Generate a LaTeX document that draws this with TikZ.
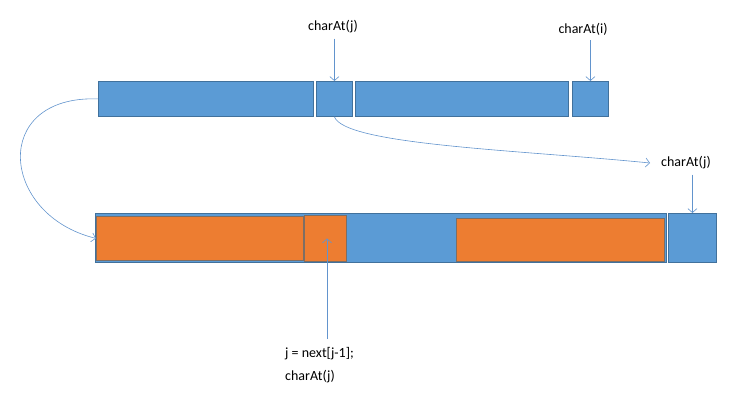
\documentclass[tikz,border=0pt]{standalone}
\usepackage{fontspec}
\setmainfont{Carlito}
\usetikzlibrary{arrows.meta,positioning}
\definecolor{cellBlue}{RGB}{91,155,213}
\definecolor{cellBlueLine}{RGB}{65,113,156}
\definecolor{cellOrange}{RGB}{237,125,49}
\definecolor{cellOrangeLine}{RGB}{125,110,100}
\definecolor{linkBlue}{RGB}{98,148,205}
\tikzset{
  bluecell/.style={draw=cellBlueLine,fill=cellBlue,line width=0.8pt,inner sep=0pt,anchor=north west},
  orangecell/.style={draw=cellOrangeLine,fill=cellOrange,line width=0.8pt,inner sep=0pt,anchor=north west},
  lbl/.style={font=\fontsize{14}{17}\selectfont,inner sep=1pt},
  link/.style={draw=linkBlue,line width=0.6pt,-{Straight Barb[length=4pt,width=9pt]}}
}

\begin{document}
\begin{tikzpicture}[x=1pt,y=-1pt]
\useasboundingbox (0,0) rectangle (752,410);
% top row
\node[bluecell,minimum width=215pt,minimum height=35pt] (t1) at (98,81) {};
\node[bluecell,minimum width=36pt,minimum height=35pt] (t2) at (316,81) {};
\node[bluecell,minimum width=213pt,minimum height=35pt] (t3) at (355,81) {};
\node[bluecell,minimum width=36pt,minimum height=35pt] (t4) at (572,81) {};
% bottom row
\node[bluecell,minimum width=571pt,minimum height=49pt] (b1) at (95,213) {};
\node[orangecell,minimum width=207pt,minimum height=44pt] (o1) at (96,216) {};
\node[orangecell,minimum width=42pt,minimum height=46pt] (o2) at (304,215) {};
\node[orangecell,minimum width=208pt,minimum height=43pt] (o3) at (456,218) {};
\node[bluecell,minimum width=48pt,minimum height=49pt] (b2) at (668,213) {};
% labels
\node[lbl] (lblJ) at (333,27) {charAt(j)};
\node[lbl] (lblI) at (583,29) {charAt(i)};
\node[lbl] (lblR) at (686,163) {charAt(j)};
\node[lbl,align=left,anchor=north west] (lblN) at (284,346) {j = next[j-1];\\[6pt]charAt(j)};
\coordinate (nTop) at (327,339);
\coordinate (rTip) at (650,163);
% connectors
\draw[link] ([yshift=-4pt]t2.north |- lblJ.south) -- (t2.north);
\draw[link] ([yshift=-4pt]t4.north |- lblI.south) -- (t4.north);
\draw[link] (t2.south) .. controls (345,145) and (520,150) .. (rTip);
\draw[link] ([yshift=-4pt]b2.north |- lblR.south) -- (b2.north);
\draw[link] (nTop) -- (nTop |- o2.center);
\draw[link] (t1.west) .. controls (-10,95) and (0,215) .. (o1.west);
\end{tikzpicture}
\end{document}
